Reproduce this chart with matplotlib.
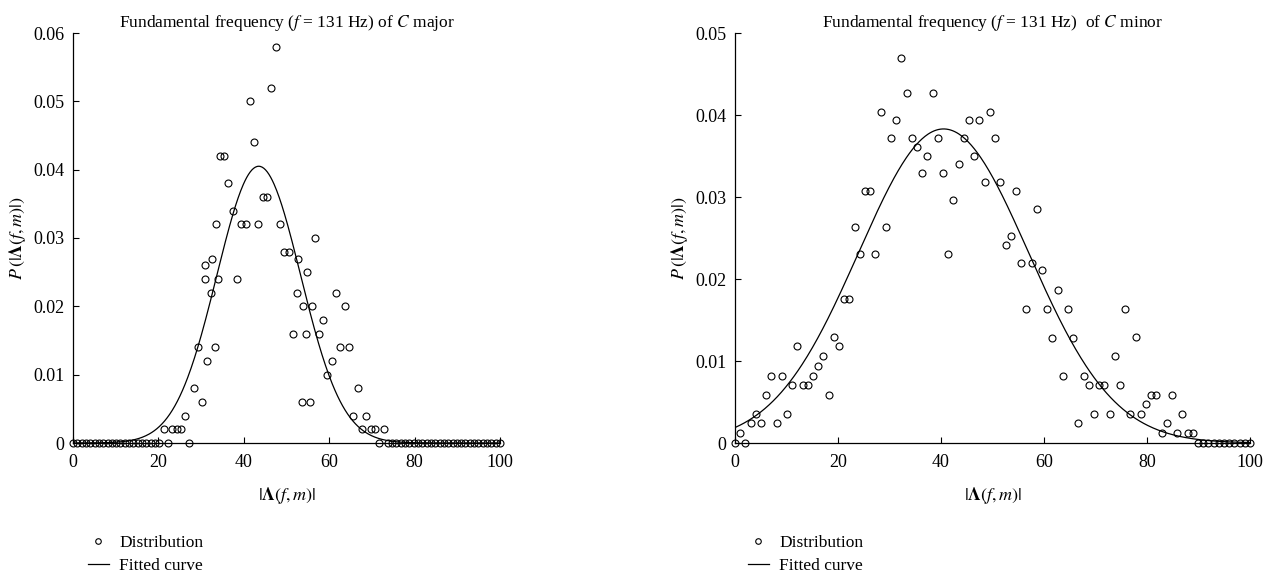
import numpy as np
import matplotlib
matplotlib.use('Agg')
import matplotlib.pyplot as plt
from matplotlib.lines import Line2D

plt.rcParams['font.family'] = ['Liberation Serif', 'DejaVu Serif']
plt.rcParams['mathtext.fontset'] = 'stix'

# bin positions of |Lambda(f, m)|, 100 bins over 0..100
bins = np.linspace(0, 100, 100)

# C major: distribution per bin
major_p = [0, 0, 0, 0, 0, 0, 0, 0, 0, 0,
           0, 0, 0, 0, 0, 0, 0, 0, 0, 0,
           0, 0.002, 0, 0.002, 0.002, 0.002, 0.004, 0, 0.008, 0.014,
           0.006, 0.012, 0.022, 0.014, 0.042, 0.042, 0.038, 0.034, 0.024, 0.032,
           0.032, 0.050, 0.044, 0.032, 0.036, 0.036, 0.052, 0.058, 0.032, 0.028,
           0.028, 0.016, 0.022, 0.006, 0.016, 0.006, 0.030, 0.016, 0.018, 0.010,
           0.012, 0.022, 0.014, 0.020, 0.014, 0.004, 0.008, 0.002, 0.004, 0.002,
           0.002, 0, 0.002, 0, 0, 0, 0, 0, 0, 0,
           0, 0, 0, 0, 0, 0, 0, 0, 0, 0,
           0, 0, 0, 0, 0, 0, 0, 0, 0, 0]
# a few more circles that sit between bins in the C major panel
major_extra_x = [31.0, 31.0, 32.5, 33.4, 34.0, 52.8, 53.8, 54.9, 55.9]
major_extra_p = [0.026, 0.024, 0.027, 0.032, 0.024, 0.027, 0.020, 0.025, 0.020]

# C minor: distribution per bin
minor_p = [0, 0.0012, 0, 0.0024, 0.0035, 0.0024, 0.0059, 0.0082, 0.0024, 0.0082,
           0.0035, 0.0071, 0.0118, 0.0071, 0.0071, 0.0082, 0.0094, 0.0106, 0.0059, 0.0129,
           0.0118, 0.0176, 0.0176, 0.0263, 0.0231, 0.0307, 0.0307, 0.0231, 0.0404, 0.0263,
           0.0372, 0.0394, 0.0470, 0.0427, 0.0372, 0.0361, 0.0329, 0.0350, 0.0427, 0.0372,
           0.0329, 0.0231, 0.0296, 0.0340, 0.0372, 0.0394, 0.0350, 0.0394, 0.0318, 0.0404,
           0.0372, 0.0318, 0.0242, 0.0253, 0.0307, 0.0220, 0.0164, 0.0220, 0.0285, 0.0211,
           0.0164, 0.0128, 0.0187, 0.0082, 0.0164, 0.0128, 0.0024, 0.0082, 0.0071, 0.0035,
           0.0071, 0.0071, 0.0035, 0.0106, 0.0071, 0.0164, 0.0035, 0.0129, 0.0035, 0.0047,
           0.0059, 0.0059, 0.0012, 0.0024, 0.0059, 0.0012, 0.0035, 0.0012, 0.0012, 0,
           0, 0, 0, 0, 0, 0, 0, 0, 0, 0]

# fitted gaussian curves (centre, width, height)
major_mu, major_sigma, major_peak = 43.5, 9.8, 0.0405
minor_mu, minor_sigma, minor_peak = 40.5, 16.5, 0.0383

major_yticks = [0, 0.01, 0.02, 0.03, 0.04, 0.05, 0.06]
major_ylabels = ['0', '0.01', '0.02', '0.03', '0.04', '0.05', '0.06']
minor_yticks = [0, 0.01, 0.02, 0.03, 0.04, 0.05]
minor_ylabels = ['0', '0.01', '0.02', '0.03', '0.04', '0.05']
xticks = [0, 20, 40, 60, 80, 100]

titles = [r'Fundamental frequency ($f$ = 131 Hz) of $C$ major',
          r'Fundamental frequency ($f$ = 131 Hz)  of $C$ minor']


def draw(ax, x, p, ex_x, ex_p, mu, sigma, peak, yticks, ylabels, title, leg_x):
    xs = np.linspace(0, 100, 500)
    ax.plot(xs, peak * np.exp(-(xs - mu) ** 2 / (2 * sigma ** 2)), color='k', lw=0.9)
    ax.plot(x, p, 'o', mfc='none', mec='k', ms=5, mew=0.8, clip_on=False, zorder=3)
    if ex_x:
        ax.plot(ex_x, ex_p, 'o', mfc='none', mec='k', ms=5, mew=0.8, clip_on=False, zorder=3)

    ax.set_xlim(0, 100)
    ax.set_ylim(0, yticks[-1])
    ax.set_xticks(xticks)
    ax.set_yticks(yticks)
    ax.set_yticklabels(ylabels)
    ax.tick_params(direction='in', length=4, width=0.8, labelsize=13)
    ax.tick_params(axis='x', pad=8)
    ax.tick_params(axis='y', pad=6)
    for s in ['top', 'right']:
        ax.spines[s].set_visible(False)
    for s in ['left', 'bottom']:
        ax.spines[s].set_linewidth(0.9)
    ax.set_title(title, fontsize=12.5, pad=4)
    ax.set_xlabel(r'$|\mathbf{\Lambda}(f, m)|$', fontsize=13, labelpad=10)
    ax.set_ylabel(r'$P\,(|\mathbf{\Lambda}(f, m)|)$', fontsize=13, labelpad=4)

    handles = [Line2D([], [], ls='none', marker='o', mfc='none', mec='k', ms=4, mew=0.8),
               Line2D([], [], color='k', lw=0.9)]
    ax.legend(handles, ['Distribution', 'Fitted curve'], loc='upper left',
              bbox_to_anchor=(leg_x, -0.225), frameon=False, fontsize=12.5,
              handlelength=1.2, handletextpad=0.6, labelspacing=0.35,
              borderaxespad=0, borderpad=0)


fig = plt.figure(figsize=(12.76, 5.84), dpi=100)
ax1 = fig.add_axes([73 / 1276, 141 / 584, 427 / 1276, 410 / 584])
ax2 = fig.add_axes([735 / 1276, 141 / 584, 515 / 1276, 410 / 584])

draw(ax1, bins, major_p, major_extra_x, major_extra_p, major_mu, major_sigma, major_peak,
     major_yticks, major_ylabels, titles[0], 15 / 427)
draw(ax2, bins, minor_p, [], [], minor_mu, minor_sigma, minor_peak,
     minor_yticks, minor_ylabels, titles[1], 13 / 515)

fig.savefig('out.png', dpi=100)
